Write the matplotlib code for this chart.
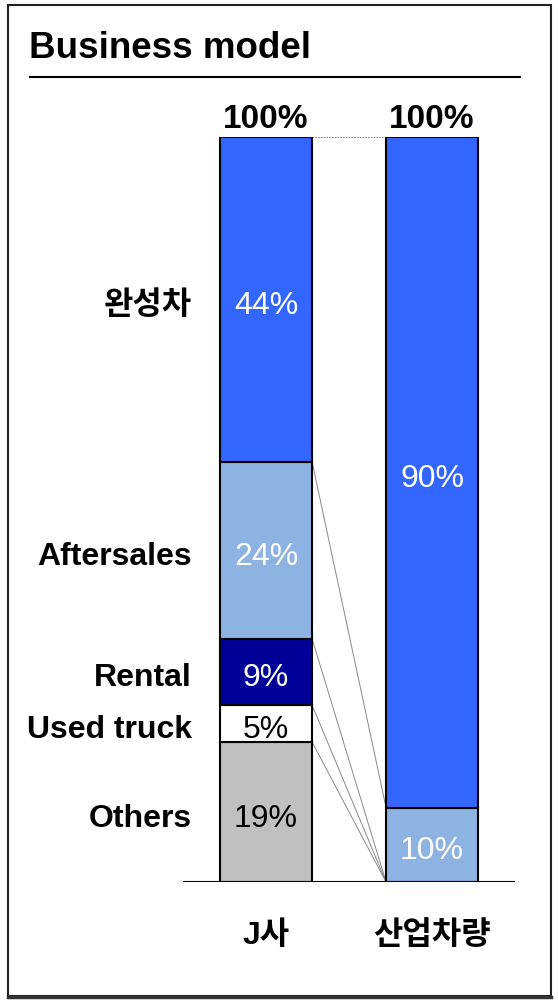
import matplotlib
matplotlib.use("Agg")
import matplotlib.pyplot as plt
from matplotlib.patches import Rectangle
from matplotlib.lines import Line2D

plt.rcParams['font.family'] = ['Liberation Sans', 'Noto Sans CJK KR']

# data
companies = ['J사', '산업차량']
segments = ['Others', 'Used truck', 'Rental', 'Aftersales', '완성차']
j_share = [19, 5, 9, 24, 44]
ind_segments = ['Others', '완성차']
ind_share = [10, 90]
top_labels = ['100%', '100%']

seg_colors = {'완성차': '#3366FF', 'Aftersales': '#8DB3E2', 'Rental': '#000099',
              'Used truck': '#FFFFFF', 'Others': '#C0C0C0'}
ind_colors = ['#8DB3E2', '#3366FF']
text_colors = {'완성차': 'white', 'Aftersales': 'white', 'Rental': 'white',
               'Used truck': 'black', 'Others': 'black'}
ind_text_colors = ['white', 'white']

fig = plt.figure(figsize=(5.58, 10), dpi=100)

# frame and title
fig.patches.append(Rectangle((0.015, 0.004), 0.972, 0.991, transform=fig.transFigure,
                             fill=False, edgecolor='#222222', lw=1.5))
fig.add_artist(Line2D([0.015, 0.988], [0.0035, 0.0035], color='#333333', lw=2.5))
fig.text(0.052, 0.952, 'Business model', fontsize=26.5, fontweight='bold', va='center', ha='left')
fig.add_artist(Line2D([0.054, 0.932], [0.923, 0.923], color='black', lw=1.5))

ax = fig.add_axes([0.328, 0.118, 0.595, 0.745])
ax.set_xlim(-0.5, 1.5)
ax.set_ylim(0, 100)
ax.axis('off')

w = 0.554
fs = 23
dy = -0.9  # nudge labels onto the visual centre of each segment

# first bar, scaled to its own total
tot = sum(j_share)
bottom = 0
tops = []
for seg, v in zip(segments, j_share):
    h = v / tot * 100
    ax.bar(0, h, w, bottom=bottom, color=seg_colors[seg], edgecolor='black', lw=1.5, zorder=3)
    ax.text(0, bottom + h / 2 + dy, f'{v}%', ha='center', va='center', fontsize=fs,
            color=text_colors[seg], zorder=4)
    ax.text(-0.446, bottom + h / 2 + dy, seg, ha='right', va='center', fontsize=fs,
            fontweight='bold', clip_on=False)
    bottom += h
    tops.append(bottom)

# second bar
tot2 = sum(ind_share)
bottom = 0
ind_tops = []
for i, v in enumerate(ind_share):
    h = v / tot2 * 100
    ax.bar(1, h, w, bottom=bottom, color=ind_colors[i], edgecolor='black', lw=1.5, zorder=3)
    ax.text(1, bottom + h / 2 + dy, f'{v}%', ha='center', va='center', fontsize=fs,
            color=ind_text_colors[i], zorder=4)
    bottom += h
    ind_tops.append(bottom)

# connectors between the bars
x0, x1 = w / 2, 1 - w / 2
ax.plot([x0, x1], [100, 100], color='#888888', lw=0.8, ls=(0, (1.5, 1)), zorder=2)
ax.plot([x0, x1], [tops[3], ind_tops[0]], color='#888888', lw=0.7, zorder=2)
for t in tops[:3][::-1]:
    ax.plot([x0, x1], [t, 0], color='#888888', lw=0.7, zorder=2)

ax.axhline(0, color='black', lw=1.5, zorder=5)

for i, lab in enumerate(top_labels):
    ax.text(i, 102.4, lab, ha='center', va='center', fontsize=24, fontweight='bold', clip_on=False)
for i, c in enumerate(companies):
    ax.text(i, -7.3, c, ha='center', va='center', fontsize=23, fontweight='bold', clip_on=False)

fig.savefig('out.png', dpi=100)
